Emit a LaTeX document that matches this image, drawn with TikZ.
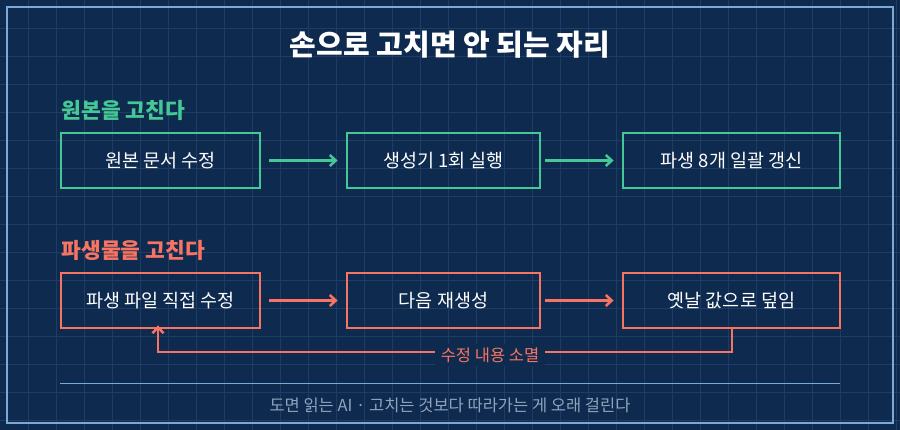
\documentclass[tikz,border=0pt]{standalone}
\usepackage{fontspec}
\setmainfont{Noto Sans CJK KR}
\usetikzlibrary{arrows.meta,positioning}
\definecolor{fondo}{HTML}{0E2A4E}
\definecolor{rejilla}{HTML}{1E3D66}
\definecolor{marco}{HTML}{7BAAD8}
\definecolor{verde}{HTML}{45C896}
\definecolor{rojo}{HTML}{F87462}
\definecolor{grisClaro}{HTML}{8FA3BD}
\tikzset{
  caja/.style={draw, line width=2.8pt, minimum width=#1, minimum height=55pt,
               inner sep=0pt, text=white, font=\fontsize{18.5}{20}\selectfont},
  flecha/.style={line width=2.5pt, -{Straight Barb[length=6pt,width=11pt]}},
  titulo/.style={font=\bfseries\fontsize{21.5}{24}\selectfont, anchor=west}
}
\begin{document}
\begin{tikzpicture}[x=1pt,y=-1pt]
  \fill[fondo] (0,0) rectangle (900,430);
  \useasboundingbox (0,0) rectangle (900,430);
  \foreach \i in {28,56,...,900}
    \draw[rejilla, line width=0.8pt] (\i,0) -- (\i,430);
  \foreach \j in {28,56,...,430}
    \draw[rejilla, line width=0.8pt] (0,\j) -- (900,\j);
  \draw[marco, line width=1.5pt] (7,7) rectangle (893,423);

  \node (tit) at (450,45) [text=white, font=\bfseries\fontsize{29}{32}\selectfont] {손으로 고치면 안 되는 자리};

  % fila de arriba
  \node (h1) at (58,110) [titulo, text=verde] {원본을 고친다};
  \node (a1) at (160.5,160.5) [caja=199pt, draw=verde] {원본 문서 수정};
  \node (a2) at (443.5,160.5) [caja=193pt, draw=verde] {생성기 1회 실행};
  \node (a3) at (731.5,160.5) [caja=217pt, draw=verde] {파생 8개 일괄 갱신};
  \draw[flecha, verde] ([xshift=8pt]a1.east) -- ([xshift=-8pt]a2.west);
  \draw[flecha, verde] ([xshift=4pt]a2.east) -- ([xshift=-8pt]a3.west);

  % fila de abajo
  \node (h2) at (58,250) [titulo, text=rojo] {파생물을 고친다};
  \node (b1) at (160.5,300.5) [caja=199pt, draw=rojo] {파생 파일 직접 수정};
  \node (b2) at (443.5,300.5) [caja=193pt, draw=rojo] {다음 재생성};
  \node (b3) at (731.5,300.5) [caja=217pt, draw=rojo] {옛날 값으로 덮임};
  \draw[flecha, rojo] ([xshift=8pt]b1.east) -- ([xshift=-8pt]b2.west);
  \draw[flecha, rojo] ([xshift=4pt]b2.east) -- ([xshift=-8pt]b3.west);

  \coordinate (c1) at (158,352);
  \coordinate (c2) at (732,352);
  \draw[flecha, rojo] (b3.south -| c2) -- (c2) -- (c1) -- ([yshift=4pt]b1.south -| c1);
  \node (perd) at (490,355) [fill=fondo, text=rojo, inner xsep=6pt, font=\fontsize{16.5}{18}\selectfont] {수정 내용 소멸};

  \draw[marco, line width=1pt] (60,384) -- (840,384);
  \node (pie) at (450,405) [text=grisClaro, font=\fontsize{16.5}{18}\selectfont] {도면 읽는 AI · 고치는 것보다 따라가는 게 오래 걸린다};
\end{tikzpicture}
\end{document}
